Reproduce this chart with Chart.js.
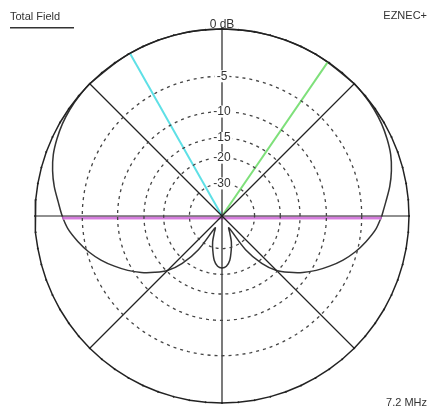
<!DOCTYPE html>
<html>
<head>
<meta charset="utf-8">
<script src="https://cdn.jsdelivr.net/npm/chart.js@4.4.0/dist/chart.umd.min.js"></script>
<style>
  html, body { margin: 0; padding: 0; background: #fff; }
  #plot { display: block; }
</style>
</head>
<body>
<canvas id="plot" width="428" height="413"></canvas>
<script>
// pattern: angle (deg, CCW from right) and gain (dB)
const patternAngles = [0, 5, 10, 15, 20, 25, 30, 35, 40, 45, 60, 75, 90, 105, 120, 135,
  140, 145, 150, 155, 160, 165, 170, 175, 180, 185, 190, 195, 200, 205, 210, 215, 220,
  225, 230, 235, 240, 245, 250, 255, 260, 265, 270, 275, 280, 285, 290, 295, 300, 305,
  310, 315, 320, 325, 330, 335, 340, 345, 350, 355, 360];
const patternDb = [-2.7, -2.2, -1.6, -1.1, -0.7, -0.45, -0.25, -0.12, -0.05, 0, 0, 0, 0, 0, 0, 0,
  -0.05, -0.12, -0.25, -0.45, -0.7, -1.1, -1.6, -2.2, -2.7, -3.3, -4.2, -5.2, -6.4, -7.8, -9.3, -11, -13,
  -15.2, -19, -26, -45, -40, -33, -28.5, -24.5, -22.5, -22, -22.5, -24.5, -28.5, -33, -40, -45, -26,
  -19, -15.2, -13, -11, -9.3, -7.8, -6.4, -5.2, -4.2, -3.3, -2.7];

const ringDb = [-5, -10, -15, -20, -30];
const ringLabels = ['-5', '-10', '-15', '-20', '-30'];
const spokeAngles = [0, 45, 90, 135, 180, 225, 270, 315];

// coloured marker lines
const markerAngles = [119.5, 55.5];
const markerColors = ['#5ee0e6', '#7ee07a'];
const cursorAngles = [180.7, 359.3];
const cursorDb = -2.7;

// ARRL log scale
function toXY(angle, db) {
  const r = Math.pow(0.89, -db / 2);
  const a = angle * Math.PI / 180;
  return { x: r * Math.cos(a), y: r * Math.sin(a) };
}

function circle(db, step) {
  const pts = [];
  for (let a = 0; a <= 360; a += step) pts.push(toXY(a, db));
  return pts;
}

const datasets = [];

ringDb.forEach(db => {
  datasets.push({
    data: circle(db, 2),
    borderColor: '#444',
    borderWidth: 1.3,
    borderDash: [3, 4],
    pointRadius: 0
  });
});

spokeAngles.forEach(a => {
  datasets.push({
    data: [toXY(a, -200), toXY(a, 0)],
    borderColor: '#222',
    borderWidth: 1.2,
    pointRadius: 0
  });
});

// outer circle with tick dots
datasets.push({
  data: circle(0, 5),
  borderColor: '#222',
  borderWidth: 1.5,
  pointRadius: 1,
  pointBackgroundColor: '#222',
  pointBorderWidth: 0
});

markerAngles.forEach((a, i) => {
  datasets.push({
    data: [toXY(a, -200), toXY(a, 0)],
    borderColor: markerColors[i],
    borderWidth: 2,
    pointRadius: 0
  });
});

datasets.push({
  data: cursorAngles.map(a => toXY(a, cursorDb)),
  borderColor: 'rgba(230,150,230,0.6)',
  borderWidth: 4,
  pointRadius: 0
});
datasets.push({
  data: cursorAngles.map(a => toXY(a, cursorDb)),
  borderColor: '#a020c0',
  borderWidth: 1.6,
  pointRadius: 0
});

datasets.push({
  data: patternAngles.map((a, i) => toXY(a, patternDb[i])),
  borderColor: '#333',
  borderWidth: 1.5,
  pointRadius: 0,
  tension: 0.3
});

datasets.forEach(d => { d.showLine = true; d.clip = 20; d.fill = false; });

const labelsPlugin = {
  id: 'labels',
  afterDatasetsDraw(chart) {
    const ctx = chart.ctx;
    const sx = chart.scales.x, sy = chart.scales.y;
    ctx.save();
    ctx.font = '12px "Liberation Sans", Arial, sans-serif';
    ctx.textAlign = 'center';
    ctx.textBaseline = 'middle';
    ringDb.forEach((db, i) => {
      const p = toXY(90, db);
      const px = sx.getPixelForValue(p.x), py = sy.getPixelForValue(p.y);
      const w = ctx.measureText(ringLabels[i]).width;
      ctx.fillStyle = '#fff';
      ctx.fillRect(px - w / 2 - 2, py - 6, w + 4, 12);
      ctx.fillStyle = '#333';
      ctx.fillText(ringLabels[i], px, py);
    });
    const top = toXY(90, 0);
    ctx.fillStyle = '#333';
    ctx.fillText('0 dB', sx.getPixelForValue(top.x), sy.getPixelForValue(top.y) - 4);

    ctx.font = '11px "Liberation Sans", Arial, sans-serif';
    ctx.textAlign = 'left';
    ctx.fillText('Total Field', 10, 17);
    ctx.fillRect(10, 27, 64, 1.5);
    ctx.textAlign = 'right';
    ctx.fillText('EZNEC+', 427, 16);
    ctx.fillText('7.2 MHz', 427, 403);
    ctx.restore();
  }
};

new Chart(document.getElementById('plot'), {
  type: 'scatter',
  data: { datasets: datasets },
  options: {
    responsive: false,
    animation: false,
    layout: { padding: { left: 35, right: 19, top: 29, bottom: 10 } },
    scales: {
      x: { type: 'linear', min: -1, max: 1, display: false },
      y: { type: 'linear', min: -1, max: 1, display: false }
    },
    plugins: { legend: { display: false }, tooltip: { enabled: false } }
  },
  plugins: [labelsPlugin]
});
</script>
</body>
</html>
